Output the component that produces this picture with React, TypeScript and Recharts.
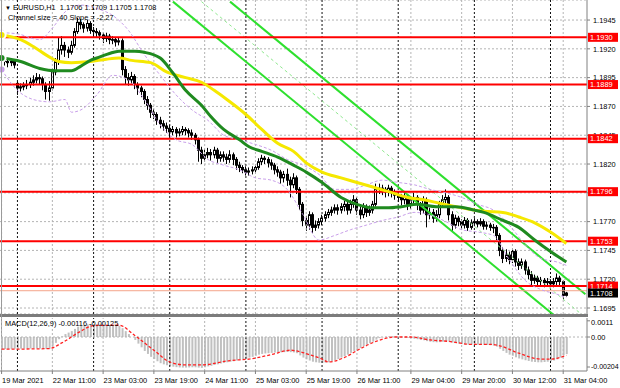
import React from 'react';
import { ComposedChart, Bar, Line, XAxis, YAxis, ReferenceLine, CartesianGrid } from 'recharts';

const FONT = '"Liberation Sans", Arial, sans-serif';
const FS = 7.4;

// ---------- price candles (EURUSD H1, 19 Mar 19:00 .. 31 Mar 05:00) ----------
const opens = [
  1.1912,1.1910,1.1909,1.1908,1.1909,1.1890,1.1886,1.1887,1.1888,1.1889,
  1.1891,1.1893,1.1895,1.1894,1.1889,1.1883,1.1886,1.1900,1.1909,1.1919,
  1.1923,1.1919,1.1917,1.1923,1.1935,1.1943,1.1941,1.1938,1.1942,1.1936,
  1.1935,1.1934,1.1932,1.1929,1.1931,1.1928,1.1928,1.1926,1.1927,1.1902,
  1.1895,1.1893,1.1896,1.1889,1.1886,1.1883,1.1876,1.1871,1.1865,1.1863,
  1.1858,1.1855,1.1853,1.1851,1.1848,1.1850,1.1847,1.1848,1.1850,1.1849,
  1.1847,1.1845,1.1841,1.1832,1.1825,1.1828,1.1830,1.1828,1.1832,1.1825,
  1.1828,1.1826,1.1824,1.1828,1.1824,1.1819,1.1817,1.1815,1.1813,1.1814,
  1.1815,1.1817,1.1822,1.1825,1.1824,1.1821,1.1819,1.1815,1.1813,1.1808,
  1.1811,1.1806,1.1802,1.1808,1.1798,1.1785,1.1771,1.1767,1.1776,1.1765,
  1.1767,1.1770,1.1773,1.1776,1.1778,1.1780,1.1782,1.1780,1.1783,1.1785,
  1.1780,1.1785,1.1789,1.1780,1.1776,1.1783,1.1778,1.1780,1.1785,1.1798,
  1.1799,1.1798,1.1796,1.1799,1.1795,1.1793,1.1791,1.1789,1.1792,1.1785,
  1.1789,1.1791,1.1785,1.1780,1.1789,1.1776,1.1778,1.1773,1.1776,1.1785,
  1.1789,1.1791,1.1776,1.1767,1.1773,1.1770,1.1767,1.1771,1.1765,1.1769,
  1.1770,1.1768,1.1770,1.1766,1.1767,1.1765,1.1765,1.1758,1.1745,1.1738,
  1.1741,1.1737,1.1744,1.1735,1.1732,1.1735,1.1728,1.1724,1.1719,1.1721,
  1.1718,1.1719,1.1717,1.1718,1.1716,1.1718,1.1721,1.1718,1.1706,
];
const highs = [
  1.1915,1.1913,1.1912,1.1912,1.1911,1.1892,1.1890,1.1891,1.1893,1.1895,
  1.1897,1.1899,1.1898,1.1896,1.1891,1.1892,1.1903,1.1912,1.1930,1.1931,
  1.1926,1.1922,1.1927,1.1938,1.1947,1.1946,1.1943,1.1945,1.1944,1.1939,
  1.1938,1.1936,1.1934,1.1934,1.1933,1.1931,1.1930,1.1930,1.1929,1.1905,
  1.1899,1.1900,1.1898,1.1891,1.1888,1.1885,1.1879,1.1873,1.1868,1.1865,
  1.1861,1.1858,1.1856,1.1854,1.1853,1.1852,1.1851,1.1853,1.1852,1.1851,
  1.1850,1.1847,1.1843,1.1835,1.1833,1.1834,1.1833,1.1835,1.1834,1.1831,
  1.1831,1.1829,1.1832,1.1830,1.1826,1.1822,1.1819,1.1818,1.1817,1.1818,
  1.1820,1.1825,1.1828,1.1827,1.1826,1.1824,1.1821,1.1818,1.1815,1.1814,
  1.1816,1.1809,1.1812,1.1810,1.1800,1.1787,1.1775,1.1779,1.1778,1.1771,
  1.1773,1.1776,1.1779,1.1781,1.1783,1.1785,1.1785,1.1786,1.1788,1.1787,
  1.1789,1.1793,1.1791,1.1783,1.1786,1.1785,1.1784,1.1788,1.1803,1.1803,
  1.1802,1.1800,1.1802,1.1801,1.1798,1.1796,1.1794,1.1795,1.1794,1.1792,
  1.1795,1.1793,1.1787,1.1792,1.1791,1.1782,1.1781,1.1780,1.1788,1.1793,
  1.1798,1.1793,1.1779,1.1776,1.1775,1.1772,1.1774,1.1773,1.1772,1.1773,
  1.1772,1.1773,1.1772,1.1770,1.1769,1.1768,1.1767,1.1760,1.1748,1.1746,
  1.1744,1.1747,1.1746,1.1738,1.1738,1.1737,1.1731,1.1727,1.1724,1.1723,
  1.1722,1.1721,1.1721,1.1720,1.1721,1.1725,1.1723,1.1719,1.1709,
];
const lows = [
  1.1906,1.1905,1.1904,1.1905,1.1903,1.1880,1.1883,1.1884,1.1885,1.1886,
  1.1888,1.1890,1.1889,1.1884,1.1876,1.1875,1.1884,1.1897,1.1906,1.1915,
  1.1913,1.1912,1.1915,1.1921,1.1933,1.1937,1.1934,1.1935,1.1933,1.1931,
  1.1930,1.1928,1.1925,1.1926,1.1924,1.1924,1.1922,1.1923,1.1897,1.1889,
  1.1888,1.1890,1.1885,1.1880,1.1878,1.1872,1.1867,1.1860,1.1859,1.1854,
  1.1851,1.1849,1.1847,1.1843,1.1845,1.1843,1.1844,1.1845,1.1845,1.1843,
  1.1841,1.1837,1.1822,1.1820,1.1822,1.1825,1.1823,1.1825,1.1821,1.1822,
  1.1822,1.1820,1.1821,1.1819,1.1815,1.1813,1.1812,1.1810,1.1810,1.1811,
  1.1812,1.1815,1.1819,1.1820,1.1817,1.1815,1.1811,1.1809,1.1803,1.1804,
  1.1801,1.1791,1.1799,1.1794,1.1780,1.1766,1.1762,1.1763,1.1760,1.1762,
  1.1764,1.1767,1.1770,1.1773,1.1775,1.1777,1.1776,1.1777,1.1779,1.1776,
  1.1777,1.1782,1.1776,1.1772,1.1773,1.1774,1.1775,1.1777,1.1783,1.1794,
  1.1793,1.1791,1.1792,1.1791,1.1789,1.1787,1.1784,1.1785,1.1780,1.1781,
  1.1785,1.1780,1.1776,1.1777,1.1765,1.1772,1.1769,1.1770,1.1773,1.1782,
  1.1786,1.1771,1.1762,1.1764,1.1766,1.1763,1.1764,1.1762,1.1763,1.1766,
  1.1765,1.1766,1.1763,1.1763,1.1762,1.1760,1.1754,1.1740,1.1734,1.1735,
  1.1733,1.1734,1.1731,1.1728,1.1729,1.1724,1.1720,1.1714,1.1716,1.1714,
  1.1715,1.1713,1.1714,1.1713,1.1713,1.1715,1.1714,1.1703,1.1705,
];
const closes = [
  1.1910,1.1909,1.1908,1.1909,1.1906,1.1886,1.1887,1.1888,1.1889,1.1891,
  1.1893,1.1895,1.1894,1.1889,1.1883,1.1886,1.1900,1.1909,1.1919,1.1923,
  1.1919,1.1917,1.1923,1.1935,1.1943,1.1941,1.1938,1.1942,1.1936,1.1935,
  1.1934,1.1932,1.1929,1.1931,1.1928,1.1928,1.1926,1.1927,1.1902,1.1895,
  1.1893,1.1896,1.1889,1.1886,1.1883,1.1876,1.1871,1.1865,1.1863,1.1858,
  1.1855,1.1853,1.1851,1.1848,1.1850,1.1847,1.1848,1.1850,1.1849,1.1847,
  1.1845,1.1841,1.1832,1.1825,1.1828,1.1830,1.1828,1.1832,1.1825,1.1828,
  1.1826,1.1824,1.1828,1.1824,1.1819,1.1817,1.1815,1.1813,1.1814,1.1815,
  1.1817,1.1822,1.1825,1.1824,1.1821,1.1819,1.1815,1.1813,1.1808,1.1811,
  1.1806,1.1802,1.1808,1.1798,1.1785,1.1771,1.1767,1.1776,1.1765,1.1767,
  1.1770,1.1773,1.1776,1.1778,1.1780,1.1782,1.1780,1.1783,1.1785,1.1780,
  1.1785,1.1789,1.1780,1.1776,1.1783,1.1778,1.1780,1.1785,1.1798,1.1799,
  1.1798,1.1796,1.1799,1.1795,1.1793,1.1791,1.1789,1.1792,1.1785,1.1789,
  1.1791,1.1785,1.1780,1.1789,1.1776,1.1778,1.1773,1.1776,1.1785,1.1789,
  1.1791,1.1776,1.1767,1.1773,1.1770,1.1767,1.1771,1.1765,1.1769,1.1770,
  1.1768,1.1770,1.1766,1.1767,1.1765,1.1765,1.1758,1.1745,1.1738,1.1741,
  1.1737,1.1744,1.1735,1.1732,1.1735,1.1728,1.1724,1.1719,1.1721,1.1718,
  1.1719,1.1717,1.1718,1.1716,1.1718,1.1721,1.1718,1.1706,1.1708,
];

// ---------- moving averages / bands (sampled readings: [bar index, price]) ----------
const greenMA = [
  [0,1.1912],[6,1.1909],[12,1.1903],[17,1.1901],[22,1.1901],[25,1.1905],[28,1.1910],[31,1.1913],
  [34,1.1916],[37,1.1918],[42,1.1918],[45,1.1917],[50,1.1912],[54,1.1899],[58,1.1884],[63,1.1871],
  [66,1.1861],[70,1.1850],[75,1.1841],[78,1.1835],[82,1.1831],[87,1.1826],[92,1.1819],[96,1.1813],
  [101,1.1804],[107,1.1791],[112,1.1785],[117,1.1782],[122,1.1782],[126,1.1783],[131,1.1785],
  [137,1.1783],[143,1.1783],[149,1.1780],[152,1.1778],[158,1.1771],[163,1.1765],[168,1.1754],
  [173,1.1744],[178,1.1735],
];
const yellowMA = [
  [0,1.1932],[6,1.1928],[10,1.1922],[15,1.1913],[18,1.1909],[22,1.1908],[28,1.1909],[33,1.1911],
  [37,1.1912],[41,1.1910],[47,1.1908],[52,1.1900],[58,1.1895],[63,1.1891],[67,1.1884],[71,1.1876],
  [77,1.1863],[82,1.1850],[87,1.1838],[92,1.1831],[96,1.1821],[101,1.1813],[107,1.1808],[112,1.1804],
  [117,1.1800],[122,1.1796],[128,1.1791],[133,1.1789],[138,1.1786],[147,1.1781],[152,1.1779],
  [158,1.1778],[163,1.1774],[168,1.1769],[173,1.1761],[178,1.1751],
];
const upperBand = [
  [0,1.1934],[5,1.1933],[12,1.1928],[16,1.1938],[20,1.1952],[25,1.1958],[30,1.1955],[35,1.1949],
  [40,1.1936],[45,1.1915],[50,1.1897],[55,1.1880],[60,1.1867],[65,1.1858],[70,1.1845],[75,1.1841],
  [80,1.1837],[85,1.1832],[90,1.1824],[95,1.1819],[100,1.1811],[105,1.1798],[110,1.1798],[115,1.1802],
  [120,1.1806],[125,1.1804],[130,1.1802],[135,1.1798],[140,1.1795],[145,1.1791],[150,1.1785],
  [155,1.1780],[160,1.1767],[165,1.1750],[170,1.1738],[175,1.1735],[178,1.1732],
];
const lowerBand = [
  [0,1.1902],[5,1.1884],[10,1.1876],[15,1.1874],[20,1.1876],[22,1.1865],[25,1.1867],[30,1.1880],
  [35,1.1897],[40,1.1893],[45,1.1876],[50,1.1854],[55,1.1841],[60,1.1837],[65,1.1824],[70,1.1819],
  [75,1.1815],[80,1.1808],[85,1.1806],[90,1.1798],[95,1.1776],[100,1.1754],[105,1.1758],[110,1.1763],
  [115,1.1767],[120,1.1771],[125,1.1774],[130,1.1778],[135,1.1776],[140,1.1770],[145,1.1763],
  [150,1.1761],[155,1.1758],[160,1.1737],[165,1.1719],[170,1.1711],[175,1.1707],[178,1.1704],
];

// regression channel endpoints [bar index, price]
const channelSolid = [
  [[54,1.1961],[174,1.1689]],
  [[72,1.1961],[184,1.1707]],
];
const channelDashed = [
  [[63,1.1961],[183,1.1689]],
];

// horizontal levels
const levels = [1.1930, 1.1889, 1.1842, 1.1796, 1.1753, 1.1714];
const bidPrice = 1.1708;
const askLine = 1.1710;

// ---------- MACD ----------
const macdHist = [
  -0.00082,-0.00082,-0.00081,-0.00080,-0.00080,-0.00080,-0.00079,-0.00079,-0.00078,-0.00078,
  -0.00077,-0.00077,-0.00078,-0.00080,-0.00082,-0.00080,-0.00060,-0.00040,-0.00015,0.00005,
  0.00020,0.00030,0.00040,0.00055,0.00070,0.00078,0.00082,0.00086,0.00088,0.00088,
  0.00087,0.00086,0.00085,0.00084,0.00082,0.00080,0.00078,0.00076,0.00060,0.00040,
  0.00020,0.00000,-0.00020,-0.00045,-0.00070,-0.00095,-0.00115,-0.00135,-0.00150,-0.00165,
  -0.00178,-0.00186,-0.00192,-0.00198,-0.00202,-0.00205,-0.00207,-0.00208,-0.00208,-0.00207,
  -0.00206,-0.00206,-0.00208,-0.00210,-0.00206,-0.00200,-0.00196,-0.00190,-0.00186,-0.00180,
  -0.00176,-0.00172,-0.00168,-0.00165,-0.00160,-0.00155,-0.00150,-0.00145,-0.00140,-0.00135,
  -0.00128,-0.00120,-0.00115,-0.00112,-0.00110,-0.00108,-0.00106,-0.00105,-0.00104,-0.00103,
  -0.00102,-0.00103,-0.00105,-0.00110,-0.00125,-0.00140,-0.00152,-0.00160,-0.00168,-0.00172,
  -0.00175,-0.00176,-0.00175,-0.00172,-0.00166,-0.00158,-0.00150,-0.00140,-0.00130,-0.00120,
  -0.00108,-0.00095,-0.00085,-0.00075,-0.00062,-0.00052,-0.00042,-0.00032,-0.00018,-0.00008,
  -0.00002,0.00002,0.00004,0.00005,0.00004,0.00002,0.00000,-0.00002,-0.00005,-0.00008,
  -0.00012,-0.00015,-0.00020,-0.00022,-0.00028,-0.00032,-0.00035,-0.00036,-0.00035,-0.00032,
  -0.00028,-0.00032,-0.00038,-0.00042,-0.00045,-0.00048,-0.00050,-0.00052,-0.00052,-0.00052,
  -0.00052,-0.00052,-0.00053,-0.00054,-0.00056,-0.00058,-0.00065,-0.00080,-0.00095,-0.00108,
  -0.00120,-0.00128,-0.00138,-0.00146,-0.00152,-0.00158,-0.00163,-0.00168,-0.00170,-0.00172,
  -0.00172,-0.00170,-0.00168,-0.00165,-0.00160,-0.00152,-0.00140,-0.00125,-0.00116,
];
const macdSignal = [
  [0,-0.00083],[15,-0.00079],[19,-0.0004],[25,0.0004],[29,0.00078],[37,0.0008],[42,0.0001],
  [48,-0.0009],[53,-0.0017],[58,-0.0019],[63,-0.0019],[72,-0.0016],[78,-0.0015],[85,-0.0012],
  [91,-0.0009],[94,-0.001],[97,-0.0012],[101,-0.0015],[103,-0.0017],[108,-0.0014],[113,-0.0008],
  [118,-0.0003],[124,0],[129,0],[135,-0.0002],[141,-0.0003],[148,-0.0005],[154,-0.0005],
  [157,-0.0006],[163,-0.0011],[170,-0.0015],[173,-0.0015],[178,-0.00125],
];

// ---------- axes ----------
const priceTicks = [1.1945, 1.1920, 1.1895, 1.1870, 1.1845, 1.1820, 1.1795, 1.1770, 1.1745, 1.1720, 1.1695];
const macdTicks = [0.0011, 0, -0.00204];
const macdTickLabels = ['0.0011', '0.00', '-0.00204'];
const timeTickIdx = [0, 16, 32, 48, 64, 80, 96, 112, 129, 145, 161, 177];
const timeTickLabels = ['19 Mar 2021', '22 Mar 11:00', '23 Mar 03:00', '23 Mar 19:00', '24 Mar 11:00',
  '25 Mar 03:00', '25 Mar 19:00', '26 Mar 11:00', '29 Mar 04:00', '29 Mar 20:00', '30 Mar 12:00', '31 Mar 04:00'];
const daySeparators = [5, 29, 53, 77, 101, 125, 149, 173];
const SLOTS = 185;
const PRICE_DOMAIN = [1.16898, 1.19624];
const MACD_DOMAIN = [-0.002312, 0.001292];

const rows: any[] = Array.from({ length: SLOTS }, (_, i) => {
  const r: any = { i };
  if (i < closes.length) {
    r.range = [lows[i], highs[i]];
    r.o = opens[i];
    r.c = closes[i];
    r.hist = macdHist[i];
  }
  return r;
});
greenMA.forEach(([i, v]) => { rows[i].g = v; });
yellowMA.forEach(([i, v]) => { rows[i].y = v; });
upperBand.forEach(([i, v]) => { rows[i].ub = v; });
lowerBand.forEach(([i, v]) => { rows[i].lb = v; });
macdSignal.forEach(([i, v]) => { rows[i].sig = v; });

const Candle = (props: any) => {
  const { x, y, width, height, payload } = props;
  if (!payload || !payload.range || !isFinite(y) || !isFinite(height)) return null;
  const [lo, hi] = payload.range;
  const span = hi - lo || 1e-9;
  const py = (p: number) => y + ((hi - p) / span) * height;
  const cx = Math.round(x + width / 2 - 0.5) + 0.5;
  const yo = py(payload.o);
  const yc = py(payload.c);
  const top = Math.min(yo, yc);
  const bot = Math.max(yo, yc);
  const bull = payload.c > payload.o;
  return (
    <g>
      <line x1={cx} x2={cx} y1={y} y2={y + height} stroke="#000" strokeWidth={1} />
      <rect x={cx - 1} y={top} width={2} height={Math.max(bot - top, 0.6)} fill={bull ? '#fff' : '#000'} stroke="#000" strokeWidth={1} />
    </g>
  );
};

const PriceTick = (p: any) => (
  <text x={p.x + 1} y={p.y} dy={2.7} fontSize={FS} fontFamily={FONT} fill="#000" textAnchor="start">
    {Number(p.payload.value).toFixed(4)}
  </text>
);

const MacdTick = (p: any) => {
  const k = macdTicks.indexOf(p.payload.value);
  const dy = k === 0 ? 4.5 : k === 2 ? 1.5 : 2.7;
  return (
    <text x={p.x - 1} y={p.y} dy={dy} fontSize={k === 2 ? 7 : FS} fontFamily={FONT} fill="#000" textAnchor="start">
      {macdTickLabels[k]}
    </text>
  );
};

const TimeTick = (p: any) => {
  const k = timeTickIdx.indexOf(p.payload.value);
  return (
    <text x={p.x + 0.5} y={p.y} dy={6.5} fontSize={FS} fontFamily={FONT} fill="#000" textAnchor="start">
      {timeTickLabels[k]}
    </text>
  );
};

const LevelTag = (props: any) => {
  const vb = props.viewBox || {};
  const yy = vb.y;
  const xx = (vb.x || 0) + (vb.width || 0) + 1;
  return (
    <g>
      <rect x={xx} y={yy - 4.5} width={30} height={9} fill={props.bg} />
      <text x={xx + 2} y={yy} dy={2.7} fontSize={FS} fontFamily={FONT} fill="#fff">{props.text}</text>
    </g>
  );
};

const gridLines = (keyPrefix: string) => [
  ...timeTickIdx.map((t) => (
    <ReferenceLine key={keyPrefix + 'g' + t} x={t} stroke="#b4b4b4" strokeDasharray="2 2" strokeWidth={1} />
  )),
  ...daySeparators.map((t) => (
    <ReferenceLine key={keyPrefix + 'd' + t} x={t} stroke="#111" strokeDasharray="2 2" strokeWidth={1} />
  )),
];

export default function App() {
  return (
    <div style={{ position: 'absolute', left: 0, top: 0, width: 620, height: 388, background: '#fff', overflow: 'hidden', fontFamily: FONT }}>
      {/* main price panel */}
      <div style={{ position: 'absolute', left: 0, top: 0 }}>
        <ComposedChart width={620} height={314} data={rows} margin={{ top: 0, right: 0, bottom: 0, left: 0 }} barCategoryGap={0}>
          <CartesianGrid vertical={false} stroke="#b4b4b4" strokeDasharray="2 2" />
          <XAxis dataKey="i" type="category" hide />
          <YAxis orientation="right" width={33} domain={PRICE_DOMAIN} allowDataOverflow ticks={priceTicks} interval={0}
            tick={<PriceTick />} tickSize={3} axisLine={{ stroke: '#808080' }} tickLine={{ stroke: '#808080' }} />
          {gridLines('p')}
          {channelSolid.map((seg, k) => (
            <ReferenceLine key={'cs' + k} segment={[{ x: seg[0][0], y: seg[0][1] }, { x: seg[1][0], y: seg[1][1] }]}
              stroke="#2ee02e" strokeWidth={2} ifOverflow="hidden" />
          ))}
          {channelDashed.map((seg, k) => (
            <ReferenceLine key={'cd' + k} segment={[{ x: seg[0][0], y: seg[0][1] }, { x: seg[1][0], y: seg[1][1] }]}
              stroke="#8fe88f" strokeWidth={1} strokeDasharray="3 3" ifOverflow="hidden" />
          ))}
          <ReferenceLine y={askLine} stroke="#f4a48a" strokeWidth={1} />
          {levels.map((lv) => (
            <ReferenceLine key={'lv' + lv} y={lv} stroke="#ff0000" strokeWidth={2} />
          ))}
          <Line dataKey="ub" stroke="#c9a0ea" strokeWidth={1} strokeDasharray="3 2" dot={false} connectNulls type="monotone" isAnimationActive={false} />
          <Line dataKey="lb" stroke="#c9a0ea" strokeWidth={1} strokeDasharray="3 2" dot={false} connectNulls type="monotone" isAnimationActive={false} />
          <Bar dataKey="range" shape={<Candle />} barSize={3} isAnimationActive={false} />
          <Line dataKey="y" stroke="#f5e800" strokeWidth={3} dot={false} connectNulls type="monotone" isAnimationActive={false} />
          <Line dataKey="g" stroke="#1f8a1f" strokeWidth={3} dot={false} connectNulls type="monotone" isAnimationActive={false} />
        </ComposedChart>
      </div>

      {/* price tags overlay (drawn above the axis labels) */}
      <div style={{ position: 'absolute', left: 0, top: 0, pointerEvents: 'none' }}>
        <ComposedChart width={620} height={314} data={rows} margin={{ top: 0, right: 0, bottom: 0, left: 0 }}>
          <XAxis dataKey="i" type="category" hide />
          <YAxis orientation="right" width={33} domain={PRICE_DOMAIN} allowDataOverflow ticks={priceTicks}
            tick={false} tickLine={false} axisLine={false} />
          {levels.map((lv) => (
            <ReferenceLine key={'tag' + lv} y={lv} stroke="none" label={<LevelTag text={lv.toFixed(4)} bg="#ff0000" />} />
          ))}
          <ReferenceLine y={bidPrice} stroke="none" label={<LevelTag text={bidPrice.toFixed(4)} bg="#000" />} />
        </ComposedChart>
      </div>

      <div style={{ position: 'absolute', left: 0, top: 314, width: 588, height: 3, background: '#7c7c7c' }} />
      <div style={{ position: 'absolute', left: 1, top: 0, width: 1, height: 371, background: '#9a9a9a' }} />

      {/* MACD panel */}
      <div style={{ position: 'absolute', left: 0, top: 317 }}>
        <ComposedChart width={620} height={71} data={rows} margin={{ top: 1, right: 0, bottom: 0, left: 0 }} barCategoryGap={0}>
          <XAxis dataKey="i" type="category" height={17} ticks={timeTickIdx} interval={0} tick={<TimeTick />}
            tickSize={3} axisLine={{ stroke: '#808080' }} tickLine={{ stroke: '#808080' }} />
          <YAxis orientation="right" width={33} domain={MACD_DOMAIN} allowDataOverflow ticks={macdTicks} interval={0}
            tick={<MacdTick />} tickSize={3} axisLine={{ stroke: '#808080' }} tickLine={{ stroke: '#808080' }} />
          {gridLines('m')}
          <ReferenceLine y={0} stroke="#b4b4b4" strokeDasharray="2 2" />
          <Bar dataKey="hist" fill="#c0c0c0" barSize={2} isAnimationActive={false} />
          <Line dataKey="sig" stroke="#ff2020" strokeWidth={1.3} strokeDasharray="3 2" dot={false} connectNulls type="monotone" isAnimationActive={false} />
        </ComposedChart>
      </div>

      <div style={{ position: 'absolute', left: 5, top: 3, fontSize: FS, lineHeight: '9px', color: '#000', whiteSpace: 'pre' }}>
        <span style={{ fontSize: 6 }}>▼</span> EURUSD,H1  1.1706 1.1709 1.1705 1.1708
      </div>
      <div style={{ position: 'absolute', left: 8, top: 13, fontSize: FS, lineHeight: '9px', color: '#000', whiteSpace: 'pre' }}>
        Channel size = 40 Slope = -2.27
      </div>
      <div style={{ position: 'absolute', left: 5, top: 319, fontSize: FS, lineHeight: '9px', color: '#000', whiteSpace: 'pre' }}>
        MACD(12,26,9) -0.00116 -0.00125
      </div>
    </div>
  );
}
